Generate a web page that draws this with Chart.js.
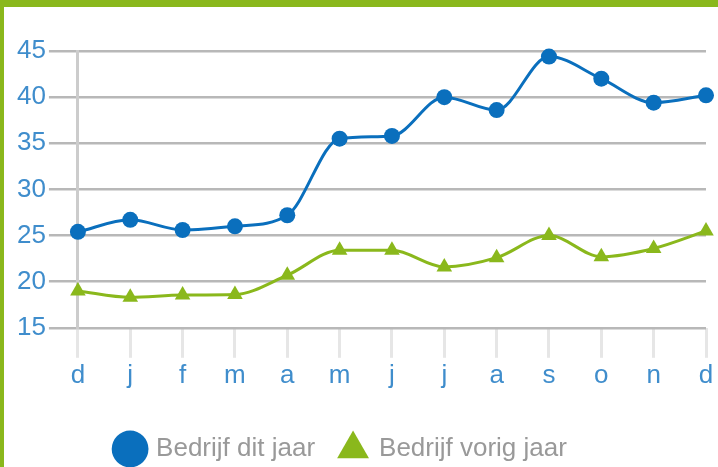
<!DOCTYPE html>
<html>
<head>
<meta charset="utf-8">
<script src="https://cdn.jsdelivr.net/npm/chart.js@4/dist/chart.umd.min.js"></script>
<style>
  body { margin: 0; background: #fff; }
  #kader {
    position: absolute; left: 0; top: 0;
    width: 718px; height: 467px;
    box-sizing: border-box;
    border-left: 4px solid #8ab81c;
    border-top: 7px solid #8ab81c;
  }
  #kader canvas { display: block; }
</style>
</head>
<body>
<div id="kader"><canvas id="grafiek" width="714" height="460"></canvas></div>
<script>
const maanden = ['d','j','f','m','a','m','j','j','a','s','o','n','d']
const ditJaar = [25.4, 26.7, 25.6, 26.0, 27.2, 35.5, 35.8, 40.0, 38.6, 44.4, 42.0, 39.4, 40.2]
const vorigJaar = [19.0, 18.3, 18.55, 18.6, 20.7, 23.4, 23.4, 21.6, 22.6, 25.0, 22.7, 23.6, 25.5]
const yMin = 15, yMax = 45, yStap = 5

const blauw = '#0a6fbd'
const groen = '#8ab81c'
const tekstBlauw = '#3f8dcc'

// legenda iets verschuiven, zoals in het origineel
const legendaSchuif = {
  id: 'legendaSchuif',
  afterLayout(chart) {
    const lg = chart.legend
    lg.left -= 18
    lg.right -= 18
    lg.top += 18
    lg.bottom += 18
  }
}

const ctx = document.getElementById('grafiek')
new Chart(ctx, {
  type: 'line',
  data: {
    labels: maanden,
    datasets: [
      {
        label: 'Bedrijf dit jaar',
        data: ditJaar,
        borderColor: blauw,
        backgroundColor: blauw,
        borderWidth: 3,
        pointStyle: 'circle',
        pointRadius: 8,
        pointBorderWidth: 0,
        cubicInterpolationMode: 'monotone',
        clip: false
      },
      {
        label: 'Bedrijf vorig jaar',
        data: vorigJaar,
        borderColor: groen,
        backgroundColor: groen,
        borderWidth: 3,
        pointStyle: 'triangle',
        pointRadius: 9,
        pointBorderWidth: 0,
        cubicInterpolationMode: 'monotone',
        clip: false
      }
    ]
  },
  options: {
    responsive: false,
    animation: false,
    layout: { padding: { left: 10, top: 44, right: 12, bottom: 13 } },
    plugins: {
      tooltip: { enabled: false },
      legend: {
        position: 'bottom',
        labels: {
          usePointStyle: true,
          color: '#999',
          padding: 25,
          font: { family: 'Liberation Sans, Arial', size: 26 }
        }
      }
    },
    scales: {
      x: {
        offset: false,
        grid: {
          drawOnChartArea: false,
          tickLength: 30,
          tickColor: '#e6e6e6',
          tickWidth: 3
        },
        border: { display: false },
        ticks: {
          color: tekstBlauw,
          padding: 2,
          maxRotation: 0,
          font: { family: 'Liberation Sans, Arial', size: 26 }
        }
      },
      y: {
        min: yMin,
        max: yMax,
        grid: {
          color: '#b8b8b8',
          lineWidth: 2.5,
          tickLength: 29
        },
        border: { color: '#cccccc', width: 3 },
        ticks: {
          stepSize: yStap,
          color: tekstBlauw,
          padding: 3,
          font: { family: 'Liberation Sans, Arial', size: 26 }
        }
      }
    }
  },
  plugins: [legendaSchuif]
})
</script>
</body>
</html>
